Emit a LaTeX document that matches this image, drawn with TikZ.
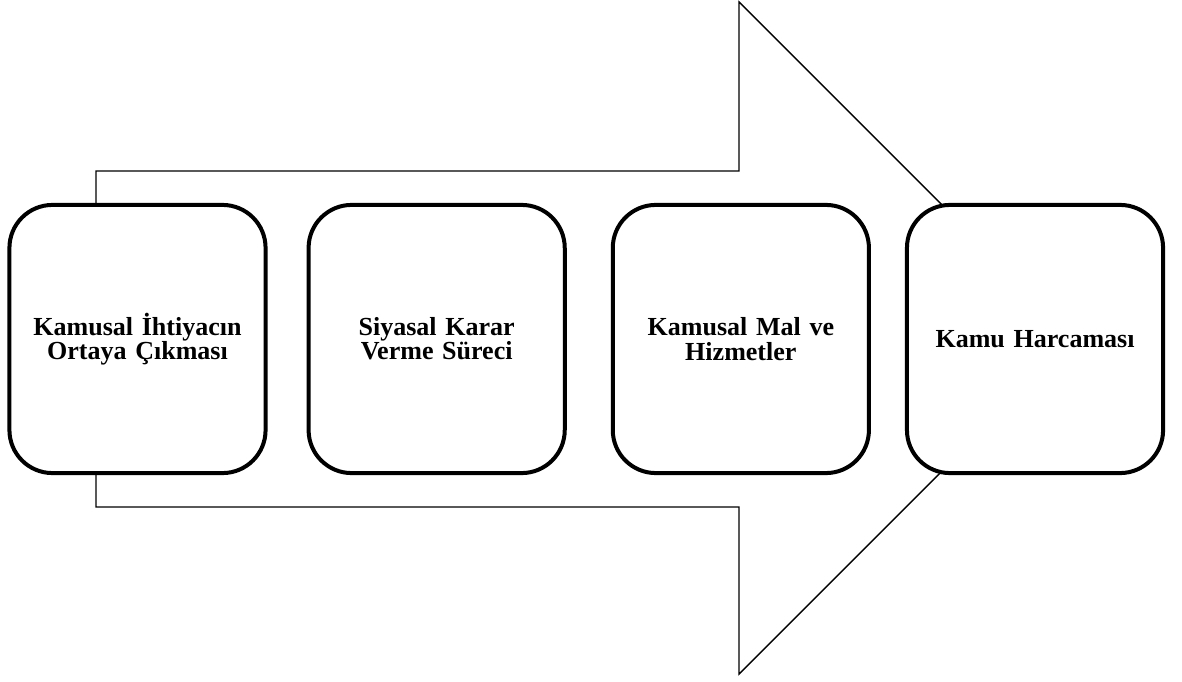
\documentclass[tikz,border=0pt]{standalone}
\usepackage{fontspec}
\setmainfont{Liberation Serif}
\usetikzlibrary{positioning}
\newcommand{\stagefont}{\bfseries\fontsize{7.4}{6.9}\selectfont\lineskiplimit=-10pt\relax}

\begin{document}
\begin{tikzpicture}[
    x=0.01cm, y=-0.01cm,
    font=\stagefont,
    stage/.style={rectangle, draw=black, line width=0.04cm, rounded corners=0.43cm, fill=white,
        minimum width=2.56cm, minimum height=2.68cm, text width=2.3cm, align=center, inner sep=0pt},
    bigarrow/.style={draw=black, line width=0.4pt, fill=white}
]
    \useasboundingbox (0,0) rectangle (1182,682);

    % Big arrow behind the stages
    \draw[bigarrow] (96,171) -- (739,171) -- (739,2) -- (1075,338)
        -- (739,674) -- (739,507) -- (96,507) -- cycle;

    % Stages
    \node[stage] (ihtiyac) at (137.5,339) {Kamusal İhtiyacın\\Ortaya Çıkması};
    \node[stage, right=0.39cm of ihtiyac] (karar) {Siyasal Karar\\Verme Süreci};
    \node[stage, right=0.44cm of karar] (mal) {Kamusal Mal ve\\Hizmetler};
    \node[stage, right=0.34cm of mal] (harcama) {Kamu Harcaması};
\end{tikzpicture}
\end{document}
